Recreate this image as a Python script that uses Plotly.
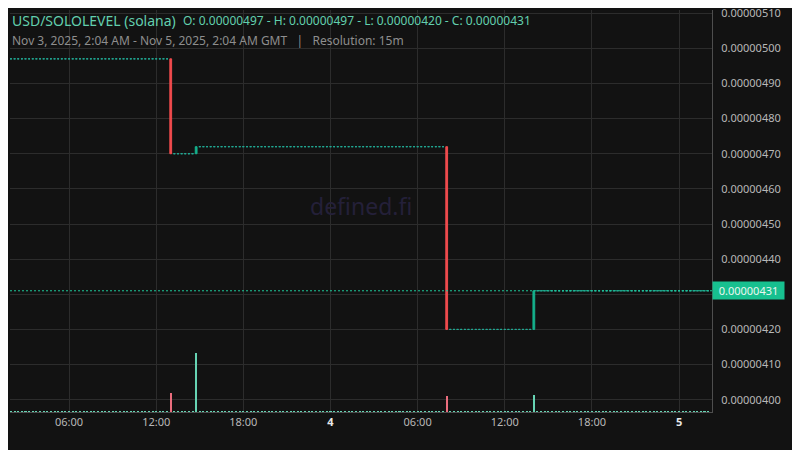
import pandas as pd
import plotly.graph_objects as go

# ---------------- data ----------------
# flat 15m periods: open = high = low = close
flat_start = ["2025-11-03 02:00", "2025-11-03 13:15", "2025-11-03 15:00",
              "2025-11-04 08:15", "2025-11-04 14:15"]
flat_end = ["2025-11-03 12:45", "2025-11-03 14:30", "2025-11-04 07:45",
            "2025-11-04 13:45", "2025-11-05 02:00"]
flat_price = [0.00000497, 0.00000470, 0.00000472, 0.00000420, 0.00000431]
flat_volume = 9

# candles where the price moved
move_time = ["2025-11-03 13:00", "2025-11-03 14:45", "2025-11-04 08:00", "2025-11-04 14:00"]
move_open = [0.00000497, 0.00000470, 0.00000472, 0.00000420]
move_close = [0.00000470, 0.00000472, 0.00000420, 0.00000431]
move_volume = [190, 590, 160, 170]

tick_times = ["2025-11-03 06:00", "2025-11-03 12:00", "2025-11-03 18:00", "2025-11-04 00:00",
              "2025-11-04 06:00", "2025-11-04 12:00", "2025-11-04 18:00", "2025-11-05 00:00"]
tick_labels = ["06:00", "12:00", "18:00", "<b><span style='color:#e8e8e8'>4</span></b>",
               "06:00", "12:00", "18:00", "<b><span style='color:#e8e8e8'>5</span></b>"]

title_text = "USD/SOLOLEVEL (solana)"
subtitle_text = "Nov 3, 2025, 2:04 AM - Nov 5, 2025, 2:04 AM GMT   |   Resolution: 15m"

# ---------------- build candle tables ----------------
flat_x, flat_p = [], []
for s, e, p in zip(flat_start, flat_end, flat_price):
    for t in pd.date_range(s, e, freq="15min"):
        flat_x.append(t)
        flat_p.append(p)

move_x = pd.to_datetime(move_time)
move_high = [max(o, c) for o, c in zip(move_open, move_close)]
move_low = [min(o, c) for o, c in zip(move_open, move_close)]

BG = "#121212"
GRID = "#2c2c2c"
AXIS = "#4e4e4e"
TEAL = "#22a893"
UP = "#15b08c"
DOWN = "#f04b4d"
VOL_UP = "#66d3b3"
VOL_DOWN = "#ea6d7d"
FONT = "Noto Sans"

fig = go.Figure()

fig.add_trace(go.Candlestick(
    x=flat_x, open=flat_p, high=flat_p, low=flat_p, close=flat_p,
    increasing=dict(line=dict(color=TEAL, width=1), fillcolor=TEAL),
    decreasing=dict(line=dict(color=TEAL, width=1), fillcolor=TEAL),
    whiskerwidth=0, showlegend=False, hoverinfo="skip",
))
fig.add_trace(go.Candlestick(
    x=move_x, open=move_open, high=move_high, low=move_low, close=move_close,
    increasing=dict(line=dict(color=UP, width=1), fillcolor=UP),
    decreasing=dict(line=dict(color=DOWN, width=1), fillcolor=DOWN),
    whiskerwidth=0, showlegend=False, hoverinfo="skip",
))

# volume
vol_x = list(flat_x) + list(move_x)
vol_y = [flat_volume] * len(flat_x) + move_volume
vol_c = [VOL_UP] * len(flat_x) + [VOL_UP if c >= o else VOL_DOWN for o, c in zip(move_open, move_close)]
fig.add_trace(go.Bar(
    x=vol_x, y=vol_y, marker=dict(color=vol_c, line=dict(width=0)),
    width=500000, yaxis="y2", showlegend=False, hoverinfo="skip",
))

last_close = move_close[-1]
fig.add_shape(type="line", xref="paper", x0=0, x1=1, yref="y", y0=last_close, y1=last_close,
              line=dict(color="#1fc99b", width=1, dash="2px,2px"), layer="above")

fig.add_annotation(xref="paper", x=1, xanchor="left", yref="y", y=last_close, yanchor="middle",
                   text=f"{last_close:.8f}", showarrow=False, bgcolor="#17c08f",
                   font=dict(family=FONT, size=11, color="#eaf6f0"),
                   width=67, height=13, borderpad=2, align="center")

# header
ohlc = (f"O: {move_open[0]:.8f} - H: {max(move_high):.8f} - "
        f"L: {min(move_low):.8f} - C: {last_close:.8f}")
fig.add_annotation(xref="paper", x=0, xanchor="left", yref="paper", y=0.974, yanchor="middle",
                   text=title_text, showarrow=False,
                   font=dict(family=FONT, size=14, color="#62cfae"))
fig.add_annotation(xref="paper", x=(181 - 10) / 702.3, xanchor="left", yref="paper", y=0.974,
                   yanchor="middle", text=ohlc, showarrow=False,
                   font=dict(family=FONT, size=12, color="#62cfae"))
fig.add_annotation(xref="paper", x=0, xanchor="left", yref="paper", y=0.923, yanchor="middle",
                   text=subtitle_text, showarrow=False,
                   font=dict(family=FONT, size=12, color="#8e8e8e"))
# watermark
fig.add_annotation(xref="paper", x=0.5, yref="paper", y=0.512, text="defined.fi", showarrow=False,
                   font=dict(family=FONT, size=23, color="#242039"))

fig.update_layout(
    width=800, height=450,
    margin=dict(l=2, r=96, t=2, b=46, autoexpand=False),
    paper_bgcolor=BG, plot_bgcolor=BG,
    font=dict(family=FONT, size=11, color="#b8b8b8"),
    hovermode=False, showlegend=False, bargap=0,
    xaxis=dict(
        type="date", range=["2025-11-03 01:56", "2025-11-05 02:16"],
        tickmode="array", tickvals=tick_times, ticktext=tick_labels,
        showgrid=True, gridcolor=GRID, gridwidth=1,
        showline=True, linecolor=AXIS, linewidth=1,
        ticks="", zeroline=False, rangeslider=dict(visible=False),
        tickfont=dict(family=FONT, size=11, color="#b8b8b8"),
    ),
    yaxis=dict(
        side="right", range=[0.000003965, 0.000005109],
        tick0=0.000004, dtick=0.0000001, tickformat=".8f",
        showgrid=True, gridcolor=GRID, gridwidth=1,
        showline=True, linecolor=AXIS, linewidth=1,
        ticks="outside", ticklen=6, tickcolor="rgba(0,0,0,0)",
        ticklabeloverflow="allow",
        zeroline=False,
        tickfont=dict(family=FONT, size=11, color="#b8b8b8"),
    ),
    yaxis2=dict(overlaying="y", range=[0, 4023], visible=False, showgrid=False),
)

fig.write_html("out.html")
